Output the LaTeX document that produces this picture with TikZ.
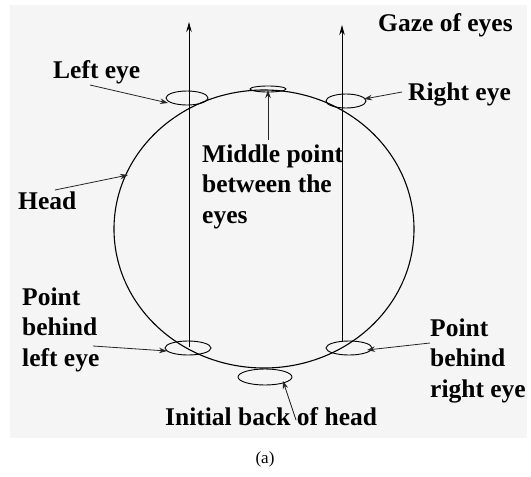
\documentclass[tikz,border=0pt]{standalone}
\usepackage{fontspec}
\setmainfont{Liberation Serif}
\usetikzlibrary{arrows.meta,shapes.geometric}
\begin{document}
\begin{tikzpicture}[x=1pt,y=-1pt,
  lbl/.style={font=\fontsize{25.5}{30.5}\selectfont\bfseries, inner sep=0pt, align=left, anchor=base west},
  eyemark/.style={draw, ellipse, inner sep=0pt, line width=0.9pt},
  ptr/.style={-{Stealth[length=8pt,width=5.5pt]}, line width=0.8pt, black!85},
  gaze/.style={-{Stealth[length=10pt,width=5.5pt]}, line width=1pt}]
\useasboundingbox (0,0) rectangle (531,477);
\fill[black!4] (10,5) rectangle (527,438);
% head
\draw[line width=1.1pt] (264,229) ellipse [x radius=150, y radius=139];
% eye marks
\node[eyemark, minimum width=42pt, minimum height=14pt] (le) at (187,98) {};
\node[eyemark, minimum width=40pt, minimum height=14pt] (re) at (346,101) {};
\node[eyemark, minimum width=36pt, minimum height=6pt] (me) at (268,89) {};
\node[eyemark, minimum width=46pt, minimum height=14pt] (lb) at (188,348) {};
\node[eyemark, minimum width=46pt, minimum height=14pt] (rb) at (349,348) {};
\node[eyemark, minimum width=54pt, minimum height=16pt] (ib) at (265,377) {};
% gaze arrows
\coordinate (lgs) at (189,347);
\coordinate (lgt) at (189,22);
\coordinate (rgs) at (342,342);
\coordinate (rgt) at (342,25);
\draw[gaze] (lgs) -- (lgt);
\draw[gaze] (rgs) -- (rgt);
% labels (multi-line labels are placed by the baseline of their last line)
\node[lbl] (gazeL) at (378,31) {Gaze of eyes};
\node[lbl] (leftL) at (53,78) {Left eye};
\node[lbl] (rightL) at (408,100) {Right eye};
\node[lbl] (midL) at (202,223) {Middle point\\between the\\eyes};
\node[lbl] (headL) at (18,209) {Head};
\node[lbl] (plL) at (22,366) {Point\\behind\\left eye};
\node[lbl] (prL) at (430,397) {Point\\behind\\right eye};
\node[lbl] (ibL) at (165,425) {Initial back of head};
\node[font=\fontsize{17}{20}\selectfont, inner sep=0pt, anchor=base] (cap) at (265,463) {(a)};
% pointer arrows
\coordinate (a1s) at (90,85);   \coordinate (a1t) at (168,103);
\coordinate (a2s) at (402,92);  \coordinate (a2t) at (364,99);
\coordinate (a3s) at (268,140); \coordinate (a3t) at (268,90);
\coordinate (a4s) at (55,190);  \coordinate (a4t) at (128,175);
\coordinate (a5s) at (93,346);  \coordinate (a5t) at (167,351);
\coordinate (a6s) at (430,343); \coordinate (a6t) at (367,350);
\coordinate (a7s) at (296,420); \coordinate (a7t) at (283,381);
\draw[ptr] (a1s) -- (a1t);
\draw[ptr] (a2s) -- (a2t);
\draw[ptr] (a3s) -- (a3t);
\draw[ptr] (a4s) -- (a4t);
\draw[ptr] (a5s) -- (a5t);
\draw[ptr] (a6s) -- (a6t);
\draw[ptr] (a7s) -- (a7t);
\end{tikzpicture}
\end{document}
